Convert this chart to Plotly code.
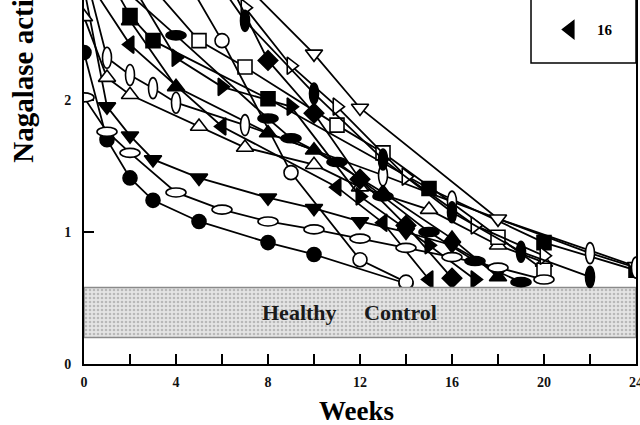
import plotly.graph_objects as go

FONT = "Liberation Serif, Times New Roman, serif"

# ---- axis / reference data ----
x_tick_vals = [0, 4, 8, 12, 16, 20, 24]
y_tick_vals = [0, 1, 2]
healthy_low = 0.20
healthy_high = 0.58
x_max = 24
y_max = 2.758

# ---- patient series (weeks, Nagalase activity) ----
s01_w = [0, 1, 2, 3, 5, 8, 10, 14]
s01_v = [2.36, 1.70, 1.41, 1.24, 1.08, 0.92, 0.83, 0.61]
s02_w = [0, 1, 2, 4, 6, 8, 10, 12, 14, 16, 18, 20]
s02_v = [2.02, 1.76, 1.60, 1.30, 1.17, 1.08, 1.02, 0.95, 0.88, 0.81, 0.73, 0.64]
s03_w = [0, 1, 2, 3, 5, 8, 10, 12, 14, 16, 18]
s03_v = [2.85, 1.95, 1.73, 1.55, 1.41, 1.26, 1.18, 1.08, 1.00, 0.90, 0.70]
s04_w = [0, 1, 2, 3, 4, 7, 13, 16, 22, 24]
s04_v = [3.00, 2.32, 2.19, 2.09, 1.98, 1.81, 1.43, 1.23, 0.84, 0.73]
s05_w = [0, 1, 2, 5, 7, 10, 12, 15, 18, 20]
s05_v = [2.63, 2.17, 2.04, 1.80, 1.64, 1.51, 1.34, 1.17, 0.90, 0.77]
s06_w = [1, 2, 3, 8, 15, 20, 24]
s06_v = [2.95, 2.64, 2.45, 2.01, 1.33, 0.92, 0.71]
s07_w = [3, 5, 7, 11, 13, 18, 20]
s07_v = [2.85, 2.45, 2.25, 1.81, 1.60, 0.96, 0.71]
s08_w = [4, 6, 9, 12, 14]
s08_v = [3.05, 2.45, 1.45, 0.79, 0.62]
s09_w = [6, 10, 12, 18, 24]
s09_v = [3.05, 2.35, 1.94, 1.10, 0.74]
s10_w = [7, 9, 11, 14, 17, 20]
s10_v = [2.70, 2.26, 1.95, 1.42, 1.05, 0.82]
s11_w = [2, 4, 8, 9, 11, 13, 15, 17, 19]
s11_v = [2.80, 2.49, 1.86, 1.71, 1.53, 1.27, 1.00, 0.78, 0.62]
s12_w = [2, 4, 6, 9, 12, 15, 17]
s12_v = [2.90, 2.32, 2.10, 1.95, 1.27, 0.90, 0.64]
s13_w = [2, 4, 8, 10, 13, 16, 18]
s13_v = [2.60, 2.10, 1.75, 1.62, 1.30, 0.95, 0.66]
s14_w = [6, 8, 10, 12, 14, 16]
s14_v = [3.00, 2.30, 1.90, 1.40, 1.05, 0.65]
s15_w = [5, 7, 10, 13, 16, 19, 22]
s15_v = [3.10, 2.60, 2.05, 1.55, 1.15, 0.85, 0.66]
s16_w = [0, 2, 6, 11, 13, 15]
s16_v = [2.95, 2.42, 1.80, 1.34, 1.07, 0.64]

series = [
    ("1", s01_w, s01_v, "circle", "black"),
    ("2", s02_w, s02_v, "hellipse", "white"),
    ("3", s03_w, s03_v, "triangle-down", "black"),
    ("4", s04_w, s04_v, "vellipse", "white"),
    ("5", s05_w, s05_v, "triangle-up", "white"),
    ("6", s06_w, s06_v, "square", "black"),
    ("7", s07_w, s07_v, "square", "white"),
    ("8", s08_w, s08_v, "circle", "white"),
    ("9", s09_w, s09_v, "triangle-down", "white"),
    ("10", s10_w, s10_v, "triangle-right", "white"),
    ("11", s11_w, s11_v, "hellipse", "black"),
    ("12", s12_w, s12_v, "triangle-right", "black"),
    ("13", s13_w, s13_v, "triangle-up", "black"),
    ("14", s14_w, s14_v, "diamond", "black"),
    ("15", s15_w, s15_v, "vellipse", "black"),
    ("16", s16_w, s16_v, "triangle-left", "black"),
]

fig = go.Figure()
shapes = []
ell_size = {"hellipse": (10, 4.5), "vellipse": (4.5, 10.5)}

for name, w, v, kind, fill in series:
    fig.add_trace(go.Scatter(x=w, y=v, mode="lines", showlegend=False,
                             line=dict(color="black", width=1.8), hoverinfo="skip"))
    if kind in ell_size:
        hw, hh = ell_size[kind]
        for xi, yi in zip(w, v):
            if yi > y_max:
                continue
            shapes.append(dict(type="circle", xref="x", yref="y",
                               xsizemode="pixel", ysizemode="pixel",
                               xanchor=xi, yanchor=yi, x0=-hw, x1=hw, y0=-hh, y1=hh,
                               fillcolor=fill, line=dict(color="black", width=1.6),
                               layer="above"))
    else:
        sz = 14 if kind in ("circle", "square") else 15
        fig.add_trace(go.Scatter(
            x=w, y=v, mode="markers", name=name,
            showlegend=(name == "16"),
            marker=dict(symbol=kind, size=sz, color=fill,
                        line=dict(color="black", width=1.6)),
        ))

# healthy control band (stippled)
fig.add_trace(go.Scatter(
    x=[0, x_max, x_max, 0, 0],
    y=[healthy_low, healthy_low, healthy_high, healthy_high, healthy_low],
    mode="lines", fill="toself", fillcolor="#d9d9d9",
    fillpattern=dict(shape=".", fgcolor="#8c8c8c", bgcolor="#e4e4e4", size=4, solidity=0.35),
    line=dict(color="#8a8a8a", width=1.5), showlegend=False, hoverinfo="skip"))

# legend frame (top right, mostly cropped)
shapes.append(dict(type="rect", xref="paper", yref="paper", x0=0.8098, x1=1.0,
                   y0=0.827, y1=1.2, line=dict(color="black", width=1.5),
                   fillcolor="rgba(0,0,0,0)", layer="above"))

band_mid = (healthy_low + healthy_high) / 2
annotations = [
    dict(text="Healthy", x=9.39, y=band_mid, xref="x", yref="y",
         showarrow=False, font=dict(family=FONT, size=22, color="#1a1a1a", weight="bold")),
    dict(text="Control", x=13.74, y=band_mid, xref="x", yref="y",
         showarrow=False, font=dict(family=FONT, size=22, color="#1a1a1a", weight="bold")),
    dict(text="Weeks", x=0.4928, y=-0.129, xref="paper", yref="paper",
         xanchor="center", yanchor="middle", showarrow=False,
         font=dict(family=FONT, size=27, color="black", weight="bold")),
    dict(text="Nagalase activity (nmol/min/mg)", x=-0.110, y=0.5467, xref="paper", yref="paper",
         xanchor="center", yanchor="bottom", textangle=-90, showarrow=False,
         font=dict(family=FONT, size=29, color="black", weight="bold")),
]

axis_common = dict(showline=True, linecolor="black", linewidth=2, showgrid=False,
                   zeroline=False, ticks="inside", tickcolor="black", tickwidth=2,
                   automargin=False, ticklabeloverflow="allow",
                   tickfont=dict(family=FONT, size=14, color="#111", weight="bold"))

fig.update_layout(
    width=640, height=425,
    margin=dict(l=84, r=4, t=0, b=61, autoexpand=False),
    paper_bgcolor="white", plot_bgcolor="white",
    xaxis=dict(range=[0, x_max], tickvals=x_tick_vals, ticklen=10,
               minor=dict(dtick=2, ticks="inside", ticklen=10, tickwidth=2, tickcolor="black"),
               ticklabelstandoff=4, **axis_common),
    yaxis=dict(range=[0, y_max], tickvals=y_tick_vals, ticklen=10, mirror=True,
               ticklabelstandoff=8, **axis_common),
    shapes=shapes,
    annotations=annotations,
    showlegend=True,
    legend=dict(x=0.8316, y=0.918, xanchor="left", yanchor="middle",
                bgcolor="rgba(0,0,0,0)", itemwidth=44,
                font=dict(family=FONT, size=15, color="black", weight="bold")),
)

fig.write_html("out.html",
               config={"displayModeBar": False, "staticPlot": True},
               post_script="document.body.style.margin='0';document.body.style.padding='0';")
